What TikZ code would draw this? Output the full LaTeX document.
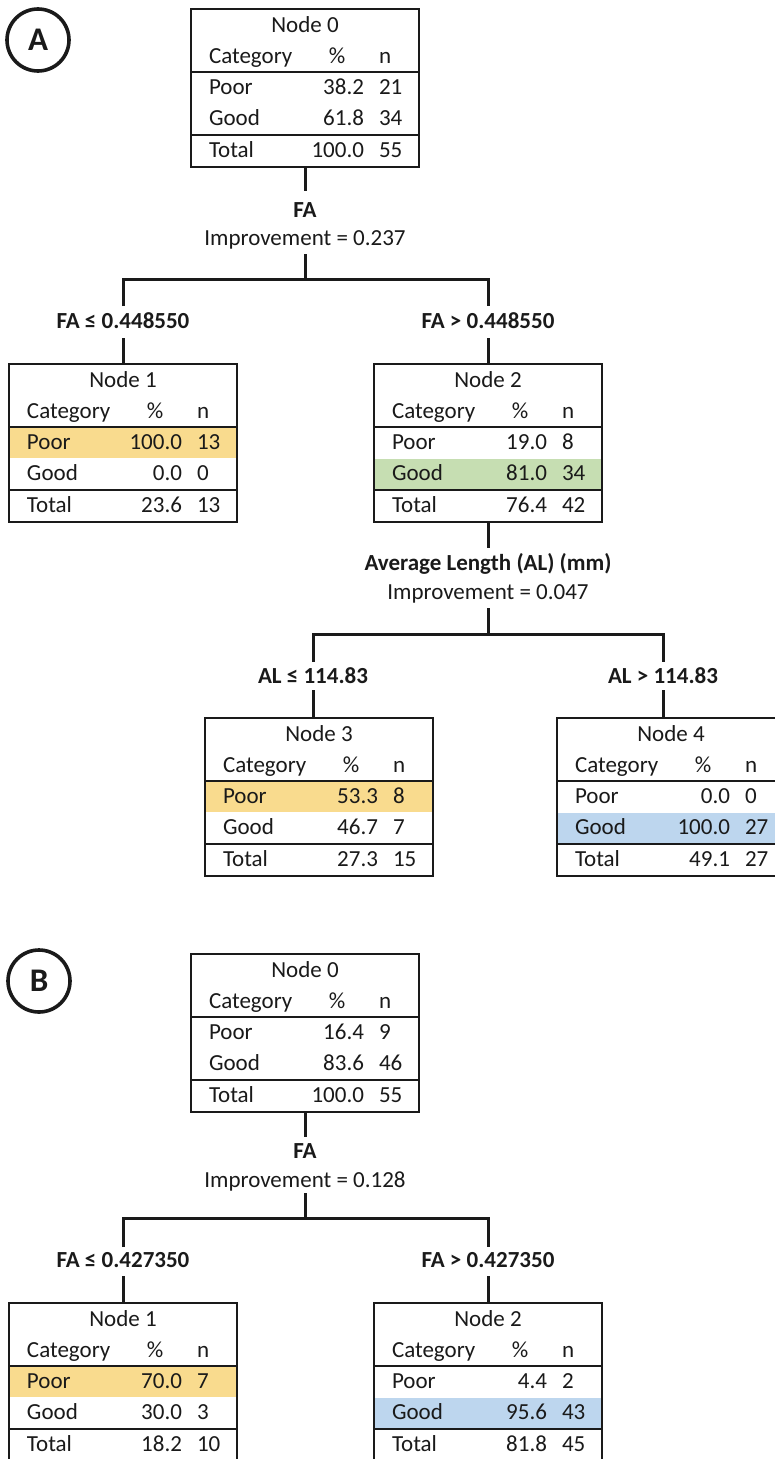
\documentclass[tikz,border=0pt]{standalone}
\usepackage{fontspec}
\setmainfont{Carlito}
\usetikzlibrary{calc,backgrounds}
\definecolor{hlY}{HTML}{F9DB8E}
\definecolor{hlG}{HTML}{C6DEB2}
\definecolor{hlB}{HTML}{BDD6EE}
\definecolor{ink}{HTML}{1A1A1A}
\tikzset{
  tbox/.style={draw=ink, line width=2pt, minimum width=228pt, minimum height=158pt,
    anchor=north west, inner sep=0pt, outer sep=0pt},
  sepline/.style={draw=ink, line width=2pt},
  txt/.style={font=\fontsize{23}{27}\selectfont, text=ink, inner sep=0pt, outer sep=0pt},
  lbl/.style={txt, font=\fontsize{23}{27}\selectfont\bfseries},
  conn/.style={draw=ink, line width=3pt, line join=miter},
  badge/.style={draw=ink, circle, line width=3.6pt, minimum size=62pt, inner sep=0pt,
    font=\fontsize{33}{33}\selectfont\bfseries, text=ink}
}
% table node: name, x, y, title
\newcommand\tnode[4]{%
  \node[tbox] (#1) at (#2,#3) {};
  \draw[sepline] ($(#1.north west)+(0,63)$) -- ($(#1.north east)+(0,63)$);
  \draw[sepline] ($(#1.north west)+(0,126)$) -- ($(#1.north east)+(0,126)$);
  \node[txt,anchor=base] (#1-t) at ($(#1.north west)+(114,23)$) {#4};
  \node[txt,anchor=base west] (#1-h1) at ($(#1.north west)+(18,54)$) {Category};
  \node[txt,anchor=base] (#1-h2) at ($(#1.north west)+(146,54)$) {\%};
  \node[txt,anchor=base west] (#1-h3) at ($(#1.north west)+(188,54)$) {n};
}
% row: name, baseline offset, label, pct, n
\newcommand\trow[5]{%
  \node[txt,anchor=base west] (#1-#2a) at ($(#1.north west)+(18,#2)$) {#3};
  \node[txt,anchor=base east] (#1-#2b) at ($(#1.north west)+(173,#2)$) {#4};
  \node[txt,anchor=base west] (#1-#2c) at ($(#1.north west)+(188,#2)$) {#5};
}
% highlight: name, top offset, colour
\newcommand\thl[3]{%
  \begin{pgfonlayer}{background}
    \fill[#3] ($(#1.north west)+(0,#2)$) rectangle ($(#1.north east)+(0,#2+31)$);
  \end{pgfonlayer}
}
\newcommand\fulltable[8]{% name,x,y,title,p1,n1,p2,n2
  \tnode{#1}{#2}{#3}{#4}
  \trow{#1}{85}{Poor}{#5}{#6}
  \trow{#1}{116}{Good}{#7}{#8}
}
\begin{document}
\begin{tikzpicture}[x=1pt,y=-1pt]
\useasboundingbox (0,0) rectangle (774,1459);
\begin{pgfonlayer}{background}
  \fill[white] (0,0) rectangle (774,1459);
\end{pgfonlayer}

% ================= Panel A =================
\node[badge] (circA) at (38,40) {A};

\fulltable{n0A}{191}{9}{Node 0}{38.2}{21}{61.8}{34}
\trow{n0A}{148}{Total}{100.0}{55}

\coordinate (a1) at (305,191);
\draw[conn] (n0A.south) -- (a1);
\node[lbl,anchor=base] (sA1) at (305,217) {FA};
\node[txt,anchor=base] (iA1) at (305,245) {Improvement = 0.237};
\coordinate (aS1) at (305,254);
\coordinate (aH1) at (305,279);
\coordinate (aL1) at (123,306);
\coordinate (aR1) at (488,306);
\draw[conn] (aS1) -- (aH1);
\draw[conn] (aL1) |- (aH1) -| (aR1);
\node[lbl,anchor=base] (cA1) at (123,328) {FA ≤ 0.448550};
\node[lbl,anchor=base] (cA2) at (488,328) {FA > 0.448550};
\coordinate (aL1b) at (123,338);
\coordinate (aR1b) at (488,338);

\fulltable{n1A}{9}{364}{Node 1}{100.0}{13}{0.0}{0}
\trow{n1A}{148}{Total}{23.6}{13}
\thl{n1A}{63}{hlY}
\fulltable{n2A}{374}{364}{Node 2}{19.0}{8}{81.0}{34}
\trow{n2A}{148}{Total}{76.4}{42}
\thl{n2A}{95}{hlG}
\draw[conn] (aL1b) -- (aL1b |- n1A.north);
\draw[conn] (aR1b) -- (aR1b |- n2A.north);

\coordinate (a2) at (488,548);
\draw[conn] (n2A.south) -- (a2);
\node[lbl,anchor=base] (sA2) at (488,570) {Average Length (AL) (mm)};
\node[txt,anchor=base] (iA2) at (488,599) {Improvement = 0.047};
\coordinate (aS2) at (488,608);
\coordinate (aH2) at (488,634);
\coordinate (aL2) at (313,662);
\coordinate (aR2) at (663,662);
\draw[conn] (aS2) -- (aH2);
\draw[conn] (aL2) |- (aH2) -| (aR2);
\node[lbl,anchor=base] (cA3) at (313,683) {AL ≤ 114.83};
\node[lbl,anchor=base] (cA4) at (663,683) {AL > 114.83};
\coordinate (aL2b) at (313,690);
\coordinate (aR2b) at (663,690);

\fulltable{n3A}{205}{718}{Node 3}{53.3}{8}{46.7}{7}
\trow{n3A}{148}{Total}{27.3}{15}
\thl{n3A}{63}{hlY}
\fulltable{n4A}{557}{718}{Node 4}{0.0}{0}{100.0}{27}
\trow{n4A}{148}{Total}{49.1}{27}
\thl{n4A}{95}{hlB}
\draw[conn] (aL2b) -- (aL2b |- n3A.north);
\draw[conn] (aR2b) -- (aR2b |- n4A.north);

% ================= Panel B =================
\node[badge] (circB) at (39,981) {B};

\fulltable{n0B}{191}{954}{Node 0}{16.4}{9}{83.6}{46}
\trow{n0B}{148}{Total}{100.0}{55}

\coordinate (b1) at (305,1137);
\draw[conn] (n0B.south) -- (b1);
\node[lbl,anchor=base] (sB1) at (305,1158) {FA};
\node[txt,anchor=base] (iB1) at (305,1187) {Improvement = 0.128};
\coordinate (bS1) at (305,1193);
\coordinate (bH1) at (305,1218);
\coordinate (bL1) at (123,1247);
\coordinate (bR1) at (488,1247);
\draw[conn] (bS1) -- (bH1);
\draw[conn] (bL1) |- (bH1) -| (bR1);
\node[lbl,anchor=base] (cB1) at (123,1267) {FA ≤ 0.427350};
\node[lbl,anchor=base] (cB2) at (488,1267) {FA > 0.427350};
\coordinate (bL1b) at (123,1276);
\coordinate (bR1b) at (488,1276);

\fulltable{n1B}{9}{1303}{Node 1}{70.0}{7}{30.0}{3}
\trow{n1B}{148}{Total}{18.2}{10}
\thl{n1B}{63}{hlY}
\fulltable{n2B}{374}{1303}{Node 2}{4.4}{2}{95.6}{43}
\trow{n2B}{148}{Total}{81.8}{45}
\thl{n2B}{95}{hlB}
\draw[conn] (bL1b) -- (bL1b |- n1B.north);
\draw[conn] (bR1b) -- (bR1b |- n2B.north);
\end{tikzpicture}
\end{document}
